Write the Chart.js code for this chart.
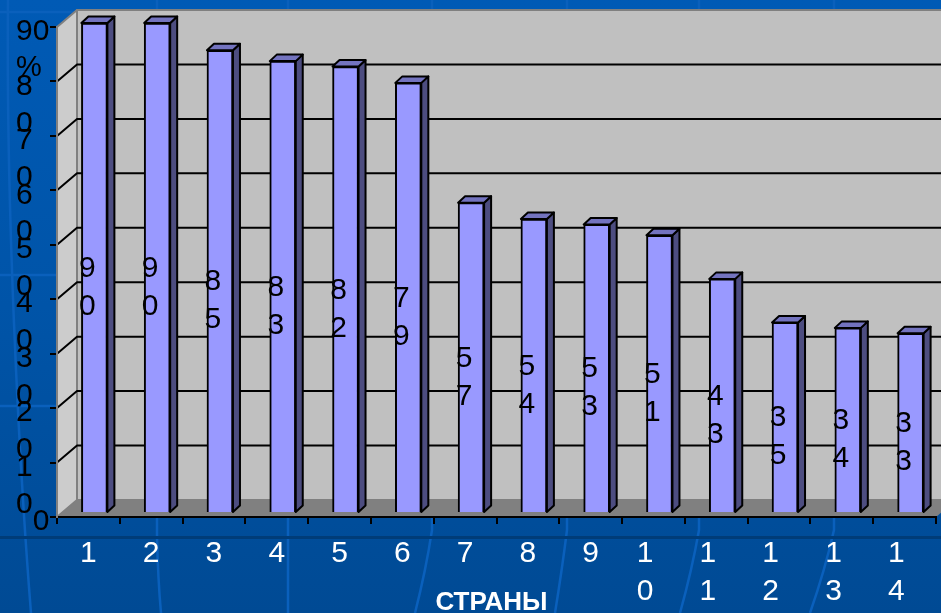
<!DOCTYPE html>
<html>
<head>
<meta charset="utf-8">
<title>СТРАНЫ</title>
<script src="https://cdn.jsdelivr.net/npm/chart.js@4/dist/chart.umd.min.js"></script>
<style>
    html, body { margin: 0; padding: 0; }
    body { width: 941px; height: 613px; overflow: hidden; position: relative;
           background: linear-gradient(180deg, #005ab5 0%, #0054a8 50%, #004a94 100%); }
    svg, canvas { position: absolute; left: 0; top: 0; }
</style>
</head>
<body>
<!-- slide background streaks -->
<svg width="941" height="613" fill="none" stroke="#0a60bc" stroke-width="2.5">
    <path d="M0 12H941M0 275H60M0 406H60"/>
    <path d="M8 0C6 200 18 450 31 613M157 0V537Q158 580 161 613M288 0V613M432 0V530Q426 570 415 613"/>
    <path d="M567 0V530Q562 570 555 613M699 0V530Q692 570 680 613M834 0V530Q825 570 810 613"/>
    <path d="M0 537.5H941" stroke="#003c78" stroke-width="3"/>
</svg>
<canvas id="countryChart" width="941" height="613"></canvas>
<script>
const categories = ['1', '2', '3', '4', '5', '6', '7', '8', '9', '10', '11', '12', '13', '14'];
const seriesValues = [90, 90, 85, 83, 82, 79, 57, 54, 53, 51, 43, 35, 34, 33];
const xTickLabels = ['1', '2', '3', '4', '5', '6', '7', '8', '9',
    ['1  ', '0  '], ['1  ', '1  '], ['1  ', '2  '], ['1  ', '3  '], ['1  ', '4  ']];
const yTickLabels = { 0: '  0', 10: ['', '1', '0'], 20: ['', '2', '0'], 30: ['', '3', '0'], 40: ['', '4', '0'],
    50: ['', '5', '0'], 60: ['', '6', '0'], 70: ['', '7', '0'], 80: ['', '8', '0'], 90: '90' };
const yUnit = '%';
const xTitle = 'СТРАНЫ';

const FONT = 'Arial, "Liberation Sans", sans-serif';
const WALL_DX = 20, WALL_DY = -17;     // depth of the box
const BAR_DX = 7, BAR_DY = -6.5;       // depth of a bar
const BAR_SHIFT_X = 6, BAR_SHIFT_Y = -4; // bars stand in the middle of the floor
const Y_LABEL_SHIFT = 5;               // y tick labels sit a little under their ticks

const poly = (ctx, pts, fill, stroke, width) => {
    ctx.beginPath();
    pts.forEach((p, i) => i ? ctx.lineTo(p[0], p[1]) : ctx.moveTo(p[0], p[1]));
    ctx.closePath();
    if (fill) { ctx.fillStyle = fill; ctx.fill(); }
    if (stroke) { ctx.strokeStyle = stroke; ctx.lineWidth = width; ctx.lineJoin = 'round'; ctx.stroke(); }
};

const box3d = {
    id: 'box3d',
    // walls, floor and the gridlines that run on them
    beforeDraw(chart) {
        const { ctx, chartArea: a, scales: { y } } = chart;
        const top = a.top, bot = a.bottom, l = a.left, r = a.right;
        if (!y.shifted) {
            const drawLabels = y.drawLabels;
            y.drawLabels = function (area) {
                ctx.save();
                ctx.translate(0, Y_LABEL_SHIFT);
                drawLabels.call(this, area);
                ctx.restore();
            };
            y.shifted = true;
        }
        ctx.save();
        poly(ctx, [[l + WALL_DX, top + WALL_DY], [r + WALL_DX, top + WALL_DY], [r + WALL_DX, bot + WALL_DY], [l + WALL_DX, bot + WALL_DY]], '#c0c0c0', '#808080', 2);
        poly(ctx, [[l, top], [l + WALL_DX, top + WALL_DY], [l + WALL_DX, bot + WALL_DY], [l, bot]], '#cccccc', '#808080', 2);
        poly(ctx, [[l, bot], [l + WALL_DX, bot + WALL_DY], [r + WALL_DX, bot + WALL_DY], [r, bot]], '#808080');
        ctx.strokeStyle = '#000';
        ctx.lineWidth = 2;
        y.ticks.forEach(t => {
            if (t.value === y.min || t.value === y.max) return;
            const py = y.getPixelForValue(t.value);
            ctx.beginPath();
            ctx.moveTo(l, py);
            ctx.lineTo(l + WALL_DX, py + WALL_DY);
            ctx.lineTo(r + WALL_DX, py + WALL_DY);
            ctx.stroke();
        });
        ctx.restore();
    },
    // side and top of each bar, then move the front face by the same shift
    beforeDatasetDraw(chart, args) {
        const ctx = chart.ctx;
        ctx.save();
        ctx.translate(BAR_SHIFT_X, BAR_SHIFT_Y);
        chart.getDatasetMeta(args.index).data.forEach(bar => {
            const l = bar.x - bar.width / 2, r = bar.x + bar.width / 2;
            poly(ctx, [[r, bar.y], [r + BAR_DX, bar.y + BAR_DY], [r + BAR_DX, bar.base + BAR_DY], [r, bar.base]], '#4d4d80', '#000', 2);
            poly(ctx, [[l, bar.y], [l + BAR_DX, bar.y + BAR_DY], [r + BAR_DX, bar.y + BAR_DY], [r, bar.y]], '#7373bf', '#000', 2);
        });
    },
    afterDatasetDraw(chart) {
        chart.ctx.restore();
    },
    // value labels split into two lines like the original, unit and axis name
    afterDatasetsDraw(chart) {
        const { ctx, chartArea: a, scales: { y } } = chart;
        ctx.save();
        ctx.font = '30px ' + FONT;
        ctx.fillStyle = '#000';
        ctx.textAlign = 'center';
        ctx.textBaseline = 'middle';
        chart.getDatasetMeta(0).data.forEach((bar, i) => {
            const cy = (bar.y + bar.base) / 2 + BAR_SHIFT_Y + 1;
            String(seriesValues[i]).split('').forEach((d, n) => ctx.fillText(d, bar.x - 1, cy + n * 38));
        });
        ctx.textAlign = 'left';
        ctx.font = '29px ' + FONT;
        ctx.fillText(yUnit, 16, y.getPixelForValue(90) + 41);
        ctx.textAlign = 'center';
        ctx.font = 'bold 26px ' + FONT;
        ctx.fillStyle = '#fff';
        ctx.fillText(xTitle, (a.left + a.right) / 2 - 5, a.bottom + 86);
        ctx.restore();
    }
};

new Chart(document.getElementById('countryChart'), {
    type: 'bar',
    data: {
        labels: categories,
        datasets: [{
            data: seriesValues,
            backgroundColor: '#9999ff',
            borderColor: '#000',
            borderWidth: 2,
            barThickness: 26,
            clip: false
        }]
    },
    plugins: [box3d],
    options: {
        responsive: false,
        animation: false,
        layout: { padding: { left: 16, top: 27, right: 5, bottom: 0 } },
        plugins: { legend: { display: false }, tooltip: { enabled: false } },
        scales: {
            x: {
                afterFit: s => { s.height = 96; },
                grid: { drawOnChartArea: false, color: '#000', lineWidth: 2, tickLength: 7 },
                border: { color: '#000', width: 2 },
                ticks: {
                    color: '#fff', maxRotation: 0, autoSkip: false, padding: 11,
                    font: { family: FONT, size: 30, lineHeight: 1.27 },
                    callback: (v, i) => xTickLabels[i]
                }
            },
            y: {
                min: 0,
                max: 90,
                afterFit: s => { s.width = 41; },
                grid: { drawOnChartArea: false, color: '#000', lineWidth: 2, tickLength: 7 },
                border: { color: '#808080', width: 2 },
                ticks: {
                    stepSize: 10, color: '#000', crossAlign: 'far', padding: 0, autoSkip: false,
                    font: { family: FONT, size: 30, lineHeight: 1.23 },
                    callback: v => yTickLabels[v]
                }
            }
        }
    }
});
</script>
</body>
</html>
